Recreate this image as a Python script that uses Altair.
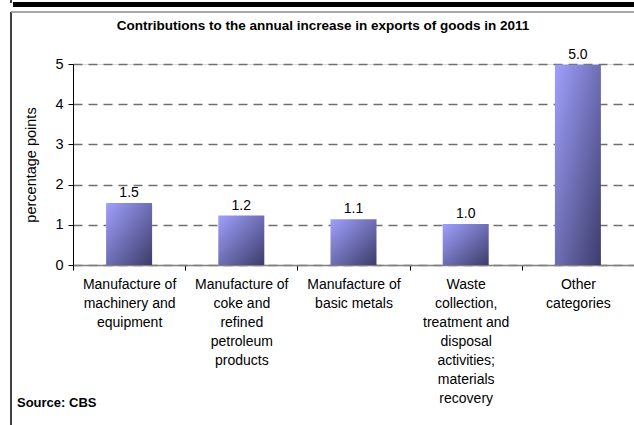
import altair as alt
import pandas as pd

categories = [
    "Manufacture of|machinery and|equipment",
    "Manufacture of|coke and|refined|petroleum|products",
    "Manufacture of|basic metals",
    "Waste|collection,|treatment and|disposal|activities;|materials|recovery",
    "Other|categories",
]
values = [1.54, 1.23, 1.14, 1.02, 4.98]
value_labels = ["1.5", "1.2", "1.1", "1.0", "5.0"]
y_ticks = [0, 1, 2, 3, 4, 5]
title_text = "Contributions to the annual increase in exports of goods in 2011"
source_text = "Source: CBS"

df = pd.DataFrame({"cat": categories, "val": values, "lab": value_labels})

FONT = "Liberation Sans"

gradient = alt.Gradient(
    gradient="linear",
    stops=[
        alt.GradientStop(offset=0, color="#a0a0ff"),
        alt.GradientStop(offset=1, color="#3c3c6a"),
    ],
    x1=0, y1=0, x2=1, y2=1,
)

x_enc = alt.X(
    "cat:N", sort=categories, title=None,
    scale=alt.Scale(paddingInner=0, paddingOuter=0),
    axis=alt.Axis(
        labelExpr="split(datum.label, '|')",
        labelAngle=0, labelFont=FONT, labelFontSize=14, labelColor="#000000",
        labelLineHeight=19, labelPadding=7, labelLimit=200,
        tickSize=5, tickColor="#000000", tickBand="extent",
        domainColor="#808080", domainWidth=1.5, grid=False,
    ),
)
y_enc = alt.Y(
    "val:Q", title="percentage points",
    scale=alt.Scale(domain=[0, 5], nice=False),
    axis=alt.Axis(
        values=y_ticks, format="d",
        labelFont=FONT, labelFontSize=14.5, labelColor="#000000", labelPadding=5,
        tickSize=5, tickColor="#000000", domainColor="#000000",
        grid=True, gridColor="#6f6f6f", gridDash=[9, 6], gridWidth=1.5,
        titleFont=FONT, titleFontSize=14.5, titleFontWeight="normal",
        titleColor="#000000", titlePadding=16,
    ),
)

bars = alt.Chart(df).mark_bar(size=46, color=gradient).encode(x=x_enc, y=y_enc)

texts = alt.Chart(df).mark_text(
    font=FONT, fontSize=14, dy=-10, color="#000000"
).encode(x=alt.X("cat:N", sort=categories), y="val:Q", text="lab:N")

# frame decorations (pixel positions relative to the plot area)
frame_v = alt.Chart(df.head(1)).mark_rule(color="#000000", strokeWidth=1.5).encode(
    x=alt.value(-62), y=alt.value(-52), y2=alt.value(361))
frame_stub = alt.Chart(df.head(1)).mark_rule(color="#000000", strokeWidth=1.5).encode(
    x=alt.value(-62), y=alt.value(-64), y2=alt.value(-61))
frame_top = alt.Chart(df.head(1)).mark_rule(color="#8a8a8a", strokeWidth=1.5).encode(
    x=alt.value(-62), x2=alt.value(561), y=alt.value(-52))
frame_bar = alt.Chart(df.head(1)).mark_rule(color="#000000", strokeWidth=5).encode(
    x=alt.value(-60), x2=alt.value(561), y=alt.value(-59.5))

title = alt.Chart(pd.DataFrame({"t": [title_text]})).mark_text(
    font=FONT, fontSize=13.5, fontWeight="bold", align="center", baseline="middle",
    color="#000000",
).encode(x=alt.value(250), y=alt.value(-38), text="t:N")

source = alt.Chart(pd.DataFrame({"t": [source_text]})).mark_text(
    font=FONT, fontSize=13, fontWeight="bold", align="left", baseline="middle",
    color="#000000",
).encode(x=alt.value(-56), y=alt.value(339), text="t:N")

chart = alt.layer(
    bars, texts, frame_v, frame_stub, frame_top, frame_bar, title, source
).properties(
    width=561, height=201,
    autosize=alt.AutoSizeParams(type="none"),
    padding={"left": 73, "top": 64, "right": 0, "bottom": 160},
).configure_view(stroke=None).configure(background="#ffffff")

chart.save("out.html", embed_options={"renderer": "svg", "actions": False})
